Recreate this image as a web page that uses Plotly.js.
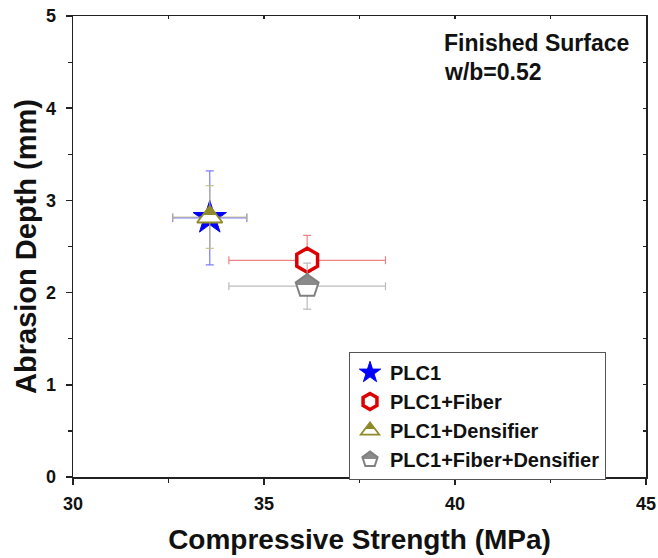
<!DOCTYPE html>
<html>
<head>
<meta charset="utf-8">
<script src="https://cdn.plot.ly/plotly-3.0.1.min.js"></script>
<style>html,body{margin:0;padding:0;background:#fff}#chart{width:658px;height:558px}</style>
</head>
<body>
<div id="chart"></div>
<script>
const seriesNames = ["PLC1", "PLC1+Fiber", "PLC1+Densifier", "PLC1+Fiber+Densifier"];
const strength = [33.58, 36.13, 33.58, 36.13];
const strengthErr = [0.97, 2.05, 0.97, 2.05];
const depth = [2.81, 2.35, 2.82, 2.07];
const depthErr = [0.51, 0.27, 0.34, 0.25];
const xTicks = [30, 35, 40, 45];
const yTicks = [0, 1, 2, 3, 4, 5];

const styles = [
  {symbol: "star", color: "#0000ff", fill: "#0000ff", size: 25, lw: 1, err: "rgba(80,80,255,0.75)", half: false},
  {symbol: "hexagon", color: "#dd0000", fill: "#ffffff", size: 24, lw: 3.5, err: "rgba(230,90,90,0.75)", half: false},
  {symbol: "triangle-up", color: "#8f8a2a", fill: "#8f8a2a", size: 22, lw: 1.8, err: "rgba(190,185,120,0.8)", half: true},
  {symbol: "pentagon", color: "#808080", fill: "#8a8a8a", size: 24, lw: 2, err: "rgba(170,170,170,0.8)", half: true}
];

const traces = seriesNames.map((name, i) => {
  const s = styles[i];
  const marker = {symbol: s.symbol, size: s.size, color: s.fill, line: {color: s.color, width: s.lw}};
  if (s.half) marker.gradient = {type: "vertical", color: "#ffffff"};
  return {
    type: "scatter", mode: "markers", name: name,
    x: [strength[i]], y: [depth[i]],
    error_x: {type: "data", array: [strengthErr[i]], color: s.err, thickness: 1.2, width: 4},
    error_y: {type: "data", array: [depthErr[i]], color: s.err, thickness: 1.2, width: 4},
    marker: marker,
    legendrank: i + 1
  };
});
const drawn = [traces[1], traces[3], traces[0], traces[2]];

const font = "Liberation Sans, Arial, sans-serif";
const axisCommon = {
  showgrid: false, zeroline: false, showline: true, linecolor: "#222", linewidth: 1.5,
  ticks: "outside", ticklen: 6, tickwidth: 1.5, tickcolor: "#222",
  tickfont: {family: font, size: 18, color: "#111", weight: 700}
};

const layout = {
  width: 658, height: 558,
  margin: {l: 73, r: 12, t: 16, b: 81},
  paper_bgcolor: "#fff", plot_bgcolor: "#fff",
  font: {family: font},
  xaxis: Object.assign({}, axisCommon, {
    range: [30, 45], tickvals: xTicks, ticktext: xTicks.map(String),
    ticklabelstandoff: 4,
    minor: {dtick: 2.5, tick0: 30, ticks: "outside", ticklen: 4, tickwidth: 1.2, tickcolor: "#222"},
    title: {text: "Compressive Strength (MPa)", font: {family: font, size: 28, color: "#111", weight: 700}, standoff: 16}
  }),
  yaxis: Object.assign({}, axisCommon, {
    range: [0, 5], tickvals: yTicks, ticktext: yTicks.map(String),
    ticklabelstandoff: 6,
    minor: {dtick: 0.5, tick0: 0, ticks: "outside", ticklen: 4, tickwidth: 1.2, tickcolor: "#222"},
    title: {text: "Abrasion Depth (mm)", font: {family: font, size: 29, color: "#111", weight: 700}, standoff: 0}
  }),
  xaxis2: {overlaying: "x", side: "top", range: [30, 45], showline: true, linecolor: "#222", linewidth: 1.5,
    ticks: "inside", ticklen: 3, tickwidth: 1.2, tickcolor: "#222", dtick: 2.5, tick0: 30, showticklabels: false, showgrid: false, zeroline: false},
  yaxis2: {overlaying: "y", side: "right", range: [0, 5], showline: true, linecolor: "#222", linewidth: 1.5,
    ticks: "inside", ticklen: 3, tickwidth: 1.2, tickcolor: "#222", dtick: 0.5, tick0: 0, showticklabels: false, showgrid: false, zeroline: false},
  legend: {
    x: 0.4817, y: 0.271, xanchor: "left", yanchor: "top",
    bordercolor: "#555", borderwidth: 1, bgcolor: "#fff",
    font: {family: font, size: 20, color: "#111", weight: 700},
    tracegroupgap: 0, itemsizing: "trace", itemwidth: 30
  },
  annotations: [
    {xref: "paper", yref: "paper", x: 0.644, y: 0.941, xanchor: "left", yanchor: "middle", showarrow: false,
     text: "Finished Surface", font: {family: font, size: 23, color: "#111", weight: 700}},
    {xref: "paper", yref: "paper", x: 0.644, y: 0.879, xanchor: "left", yanchor: "middle", showarrow: false,
     text: "w/b=0.52", font: {family: font, size: 23, color: "#111", weight: 700}}
  ]
};

drawn.push({type: "scatter", x: [30], y: [0], xaxis: "x2", yaxis: "y2", mode: "markers", marker: {opacity: 0}, showlegend: false, hoverinfo: "skip"});

function isWhite(c) {
  if (!c) return false;
  c = c.replace(/\s/g, "").toLowerCase();
  return c === "#ffffff" || c === "#fff" || c === "white" || c.indexOf("rgb(255,255,255") === 0 || c.indexOf("rgba(255,255,255") === 0;
}

Plotly.newPlot("chart", drawn, layout, {displayModeBar: false, staticPlot: true}).then(gd => {
  const NS = "http://www.w3.org/2000/svg";
  gd.querySelectorAll("linearGradient").forEach(g => {
    const stops = Array.from(g.querySelectorAll("stop"));
    const cols = stops.map(s => s.getAttribute("stop-color") || s.style.stopColor);
    let fill = cols.find(c => !isWhite(c)) || cols[0];
    g.setAttribute("gradientUnits", "objectBoundingBox");
    g.setAttribute("x1", "0"); g.setAttribute("y1", "0");
    g.setAttribute("x2", "0"); g.setAttribute("y2", "1");
    g.removeAttribute("gradientTransform");
    stops.forEach(s => s.remove());
    [[0, fill], [0.52, fill], [0.52, "#ffffff"], [1, "#ffffff"]].forEach(([o, c]) => {
      const st = document.createElementNS(NS, "stop");
      st.setAttribute("offset", o);
      st.setAttribute("stop-color", c);
      g.appendChild(st);
    });
  });
});
</script>
</body>
</html>
